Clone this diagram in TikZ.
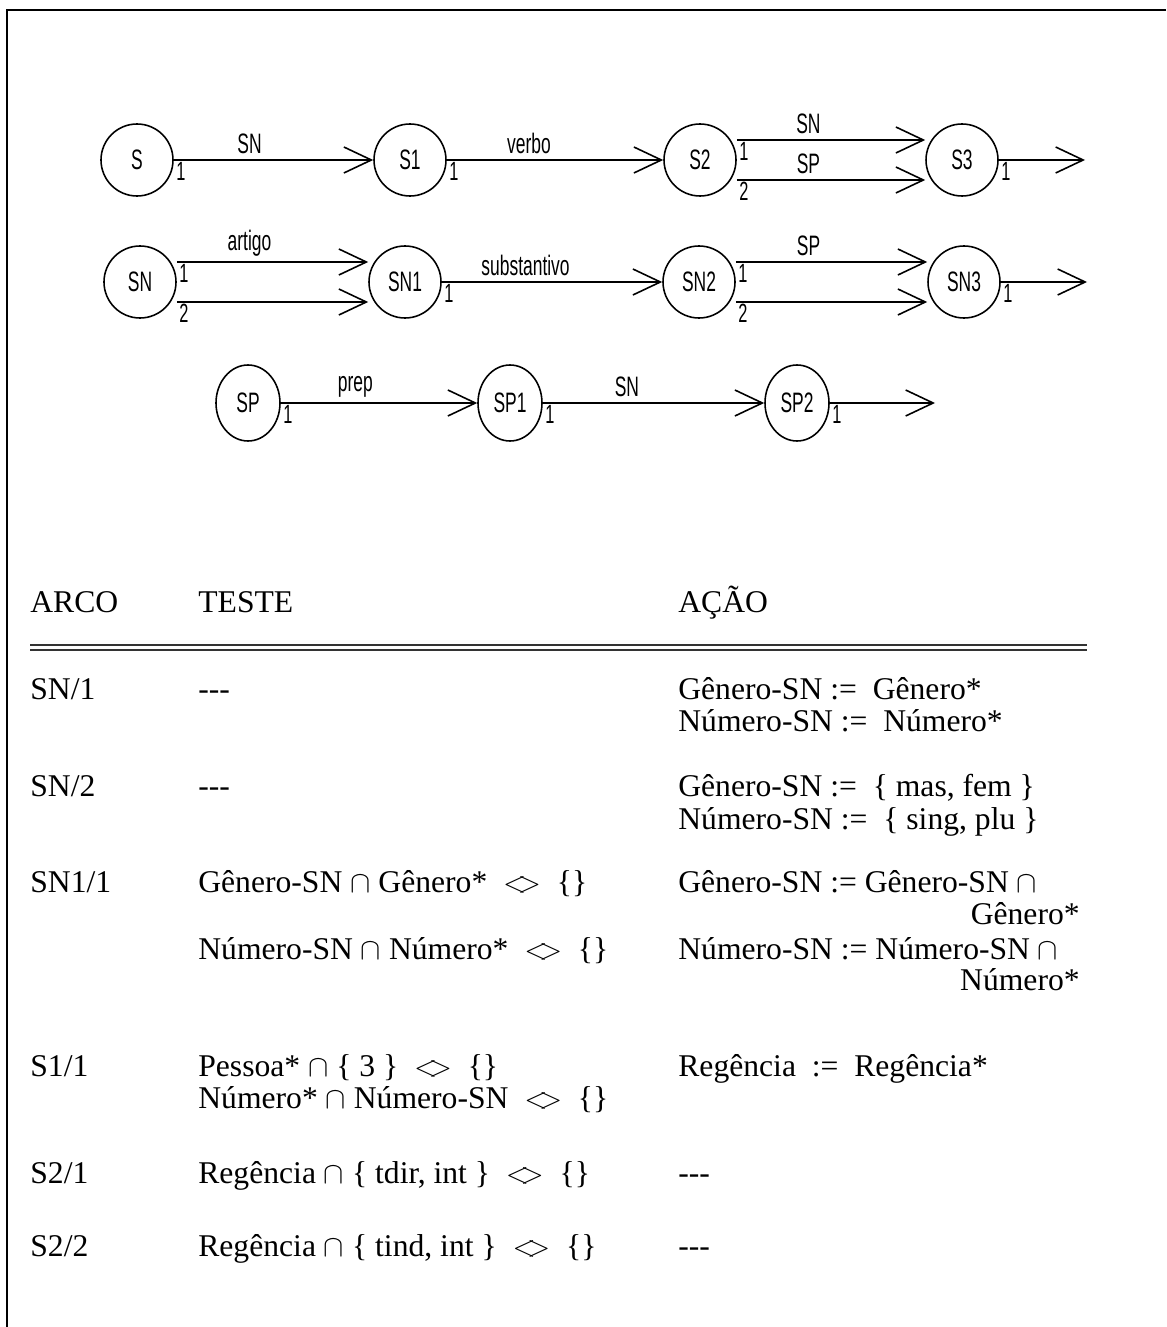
\documentclass[tikz,border=0pt]{standalone}
\usepackage{fontspec}
\setmainfont{Liberation Serif}
\newfontfamily\narrowsans[FakeStretch=0.62]{Liberation Sans}
\usetikzlibrary{arrows.meta,shapes.geometric,positioning,calc}

\newcommand{\difer}{\ensuremath{\mathrel{<\mkern-5mu>}}}

\begin{document}
\begin{tikzpicture}[
    st/.style={draw, circle, line width=0.9pt, minimum size=1.44cm, inner sep=0pt, font=\narrowsans\fontsize{16}{18}\selectfont},
    stp/.style={draw, ellipse, line width=0.9pt, minimum width=1.28cm, minimum height=1.52cm, inner sep=0pt, font=\narrowsans\fontsize{16}{18}\selectfont},
    arr/.style={-{Straight Barb[length=0.55cm, width=0.52cm]}, line width=0.9pt},
    lbl/.style={font=\narrowsans\fontsize{16}{18}\selectfont, above, inner sep=3pt, pos=0.38},
    num/.style={font=\narrowsans\fontsize{15}{17}\selectfont, below right, inner sep=1pt, pos=0},
    cell/.style={anchor=base west, inner sep=0pt, font=\fontsize{18}{18}\selectfont},
    rcell/.style={cell, anchor=base east},
    rule/.style={line width=0.6pt, black!80}
]
\useasboundingbox (0,0) rectangle (23.32,-26.54);
\draw[line width=1pt] (23.32,-0.2) -- (0.14,-0.2) -- (0.14,-26.54);

% rede S
\node[st] (s) at (2.74,-3.2) {S};
\node[st] (s1) at (8.2,-3.2) {S1};
\node[st] (s2) at (14.0,-3.2) {S2};
\node[st] (s3) at (19.24,-3.2) {S3};
\coordinate (s3out) at (21.7,-3.2);

\draw[arr] (s) -- node[lbl] {SN} node[num] {1} (s1);
\draw[arr] (s1) -- node[lbl] {verbo} node[num] {1} (s2);
\draw[arr] ($(s2.east)+(0,0.4)$) -- node[lbl] {SN} node[num] {1} ($(s3.west)+(0,0.4)$);
\draw[arr] ($(s2.east)+(0,-0.4)$) -- node[lbl] {SP} node[num] {2} ($(s3.west)+(0,-0.4)$);
\draw[arr] (s3) -- node[num] {1} (s3out);

% rede SN
\node[st] (sn) at (2.8,-5.64) {SN};
\node[st] (sn1) at (8.1,-5.64) {SN1};
\node[st] (sn2) at (13.98,-5.64) {SN2};
\node[st] (sn3) at (19.28,-5.64) {SN3};
\coordinate (sn3out) at (21.74,-5.64);

\draw[arr] ($(sn.east)+(0,0.4)$) -- node[lbl] {artigo} node[num] {1} ($(sn1.west)+(0,0.4)$);
\draw[arr] ($(sn.east)+(0,-0.4)$) -- node[num] {2} ($(sn1.west)+(0,-0.4)$);
\draw[arr] (sn1) -- node[lbl] {substantivo} node[num] {1} (sn2);
\draw[arr] ($(sn2.east)+(0,0.4)$) -- node[lbl] {SP} node[num] {1} ($(sn3.west)+(0,0.4)$);
\draw[arr] ($(sn2.east)+(0,-0.4)$) -- node[num] {2} ($(sn3.west)+(0,-0.4)$);
\draw[arr] (sn3) -- node[num] {1} (sn3out);

% rede SP
\node[stp] (sp) at (4.96,-8.06) {SP};
\node[stp] (sp1) at (10.2,-8.06) {SP1};
\node[stp] (sp2) at (15.94,-8.06) {SP2};
\coordinate (sp2out) at (18.7,-8.06);

\draw[arr] (sp) -- node[lbl] {prep} node[num] {1} (sp1);
\draw[arr] (sp1) -- node[lbl] {SN} node[num] {1} (sp2);
\draw[arr] (sp2) -- node[num] {1} (sp2out);

% tabela
\node[cell] (harco) at (0.6,-12.24) {ARCO};
\node[cell] (hteste) at (3.96,-12.24) {TESTE};
\node[cell] (hacao) at (13.56,-12.24) {AÇÃO};
\draw[rule] (0.6,-12.9) -- (21.74,-12.9);
\draw[rule] (0.6,-13.0) -- (21.74,-13.0);

\node[cell] (arco1) at (0.6,-13.98) {SN/1};
\node[cell] (teste1) at (3.96,-13.98) {-{}-{}-};
\node[cell] (acao1a) at (13.56,-13.98) {Gênero-SN~:=~~Gênero*};
\node[cell] (acao1b) at (13.56,-14.62) {Número-SN~:=~~Número*};

\node[cell] (arco2) at (0.6,-15.92) {SN/2};
\node[cell] (teste2) at (3.96,-15.92) {-{}-{}-};
\node[cell] (acao2a) at (13.56,-15.92) {Gênero-SN~:=~~\{ mas, fem \}};
\node[cell] (acao2b) at (13.56,-16.58) {Número-SN~:=~~\{ sing, plu \}};

\node[cell] (arco3) at (0.6,-17.84) {SN1/1};
\node[cell] (teste3a) at (3.96,-17.84) {Gênero-SN $\cap$ Gênero*~~\difer~~\{\}};
\node[cell] (acao3a) at (13.56,-17.84) {Gênero-SN~:=~Gênero-SN $\cap$};
\node[rcell] (acao3b) at (21.6,-18.48) {Gênero*};
\node[cell] (teste3b) at (3.96,-19.18) {Número-SN $\cap$ Número*~~\difer~~\{\}};
\node[cell] (acao3c) at (13.56,-19.18) {Número-SN~:=~Número-SN $\cap$};
\node[rcell] (acao3d) at (21.6,-19.8) {Número*};

\node[cell] (arco4) at (0.6,-21.52) {S1/1};
\node[cell] (teste4a) at (3.96,-21.52) {Pessoa* $\cap$ \{ 3 \}~~\difer~~\{\}};
\node[cell] (teste4b) at (3.96,-22.16) {Número* $\cap$ Número-SN~~\difer~~\{\}};
\node[cell] (acao4) at (13.56,-21.52) {Regência~~:=~~Regência*};

\node[cell] (arco5) at (0.6,-23.66) {S2/1};
\node[cell] (teste5) at (3.96,-23.66) {Regência $\cap$ \{ tdir, int \}~~\difer~~\{\}};
\node[cell] (acao5) at (13.56,-23.66) {-{}-{}-};

\node[cell] (arco6) at (0.6,-25.12) {S2/2};
\node[cell] (teste6) at (3.96,-25.12) {Regência $\cap$ \{ tind, int \}~~\difer~~\{\}};
\node[cell] (acao6) at (13.56,-25.12) {-{}-{}-};
\end{tikzpicture}
\end{document}
